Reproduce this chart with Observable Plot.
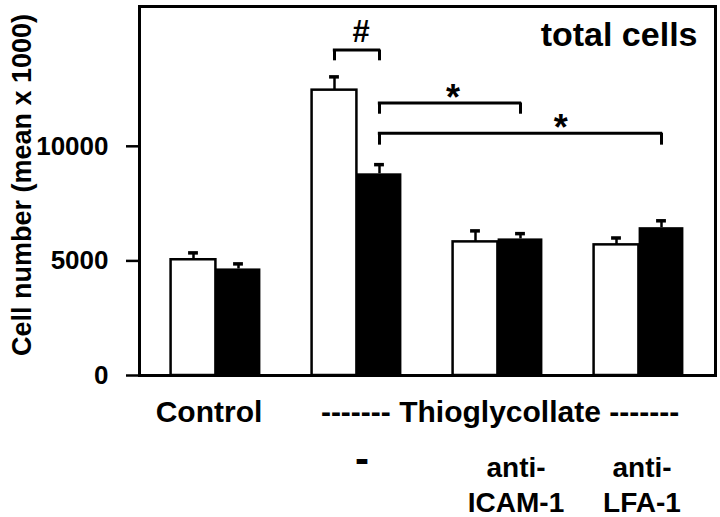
<!DOCTYPE html>
<html><head><meta charset="utf-8">
<script src="https://cdn.jsdelivr.net/npm/d3@7"></script>
<script src="https://cdn.jsdelivr.net/npm/@observablehq/plot@0.6"></script>
<style>
html,body{margin:0;padding:0;background:#fff;}
#chart svg{display:block;}
</style></head><body><div id="chart"></div>
<script>
// ---- data ----
const groups = ["Control", "Thioglycollate", "anti-ICAM-1", "anti-LFA-1"];
const whiteMeans = [5050, 12450, 5830, 5700];
const whiteErrs  = [300, 580, 480, 300];
const blackMeans = [4650, 8800, 5960, 6450];
const blackErrs  = [220, 400, 230, 300];
const yTicks = [0, 5000, 10000];
const yLabel = "Cell number (mean x 1000)";
const panelTitle = "total cells";
const topLabels = [{g: 0, text: "Control"}, {g: 2, text: "------- Thioglycollate -------"}];
const dashLabels = [{g: 1, text: "-"}];
const subLabels = [{g: 2, text: "anti-\nICAM-1"}, {g: 3, text: "anti-\nLFA-1"}];
// significance brackets: [group, series] to [group, series]
const brackets = [
  {from: [1, "white"], to: [1, "black"], top: 14200, foot: 13730, label: "#"},
  {from: [1, "black"], to: [2, "black"], top: 11890, foot: 11400, label: "*"},
  {from: [1, "black"], to: [3, "black"], top: 10570, foot: 10050, label: "*"}
];

// ---- layout ----
const W = 720, H = 517, mL = 139, mR = 5, mT = 6, mB = 142;
const po = 0.04;
const step = (W - mL - mR) / (groups.length + 2 * po);
const barW = 45;
const sideOff = {white: -barW / 2, black: barW / 2}; // from band centre
const font = "'Liberation Sans', Arial, Helvetica, sans-serif";

const bars = groups.flatMap((g, i) => [
  {g, series: "white", v: whiteMeans[i], e: whiteErrs[i]},
  {g, series: "black", v: blackMeans[i], e: blackErrs[i]}
]);
const whites = bars.filter(d => d.series === "white");
const blacks = bars.filter(d => d.series === "black");

const marks = [];
// bars
marks.push(Plot.barY(whites, {x: "g", y: "v", fill: "white", stroke: "black", strokeWidth: 2.5,
  insetLeft: step / 2 - barW, insetRight: step / 2}));
marks.push(Plot.barY(blacks, {x: "g", y: "v", fill: "black",
  insetLeft: step / 2, insetRight: step / 2 - barW}));
// error bars (upper only)
for (const [arr, s] of [[whites, "white"], [blacks, "black"]]) {
  marks.push(Plot.ruleX(arr, {x: "g", y1: "v", y2: d => d.v + d.e, dx: sideOff[s], stroke: "black", strokeWidth: 2.5}));
  const c = step / 2 + sideOff[s];
  marks.push(Plot.tickY(arr, {x: "g", y: d => d.v + d.e, stroke: "black", strokeWidth: 3.5,
    insetLeft: c - 5, insetRight: step - c - 5}));
}
// brackets
const labelDx = [4, 3, 40];
const labelDy = {"#": -18, "*": -5};
const labelSize = {"#": 31, "*": 36};
brackets.forEach((b, k) => {
  const [i1, s1] = b.from, [i2, s2] = b.to;
  const left1 = step / 2 + sideOff[s1];
  const right2 = step / 2 + sideOff[s2];
  marks.push(Plot.ruleY([b], {x1: () => groups[i1], x2: () => groups[i2], y: "top",
    insetLeft: left1 - 1.25, insetRight: step - right2 - 1.25, stroke: "black", strokeWidth: 3}));
  marks.push(Plot.ruleX([b], {x: () => groups[i1], y1: "foot", y2: "top", dx: sideOff[s1], stroke: "black", strokeWidth: 3}));
  marks.push(Plot.ruleX([b], {x: () => groups[i2], y1: "foot", y2: "top", dx: sideOff[s2], stroke: "black", strokeWidth: 3}));
  const p1 = sideOff[s1], p2 = (i2 - i1) * step + sideOff[s2];
  marks.push(Plot.text([b], {x: () => groups[i1], y: "top", text: "label", dx: (p1 + p2) / 2 + labelDx[k],
    dy: labelDy[b.label], fontSize: labelSize[b.label], fontWeight: "bold", lineAnchor: "middle", fill: "black"}));
});
// frame and axis
marks.push(Plot.frame({stroke: "black", strokeWidth: 3}));
marks.push(Plot.axisY({ticks: yTicks, tickSize: 13, tickPadding: 18, tickFormat: d3.format("d"),
  fontSize: 26, fontWeight: "bold", label: null, strokeWidth: 2.5}));
marks.push(Plot.text([yLabel], {frameAnchor: "left", textAnchor: "middle", rotate: -90, dx: -117, dy: -6,
  fontSize: 27, fontWeight: "bold", lineAnchor: "middle"}));
// panel title
marks.push(Plot.text([panelTitle], {frameAnchor: "top-right", textAnchor: "end", lineAnchor: "top",
  dx: -18, dy: 15, fontSize: 34, fontWeight: "bold"}));
// category labels (one mark each so that the small offsets stay constants)
const topDx = [-7, 2];
topLabels.forEach((d, k) => marks.push(Plot.text([d], {x: () => groups[d.g], text: "text",
  frameAnchor: "bottom", lineAnchor: "top", dx: topDx[k], dy: 25, fontSize: 30, fontWeight: "bold"})));
dashLabels.forEach(d => marks.push(Plot.text([d], {x: () => groups[d.g], text: "text",
  frameAnchor: "bottom", lineAnchor: "middle", dx: 5, dy: 84, fontSize: 42, fontWeight: "bold"})));
const subDx = [18, 3];
subLabels.forEach((d, k) => marks.push(Plot.text([d], {x: () => groups[d.g], text: "text",
  frameAnchor: "bottom", lineAnchor: "top", dx: subDx[k], dy: 77, fontSize: 28, fontWeight: "bold", lineHeight: 1.25})));

const chart = Plot.plot({
  width: W, height: H,
  marginLeft: mL, marginRight: mR, marginTop: mT, marginBottom: mB,
  style: {fontFamily: font, background: "white", color: "black"},
  x: {domain: groups, paddingInner: 0, paddingOuter: po, axis: null},
  y: {domain: [0, 16100], axis: null},
  marks
});
document.getElementById("chart").appendChild(chart);
</script></body></html>
